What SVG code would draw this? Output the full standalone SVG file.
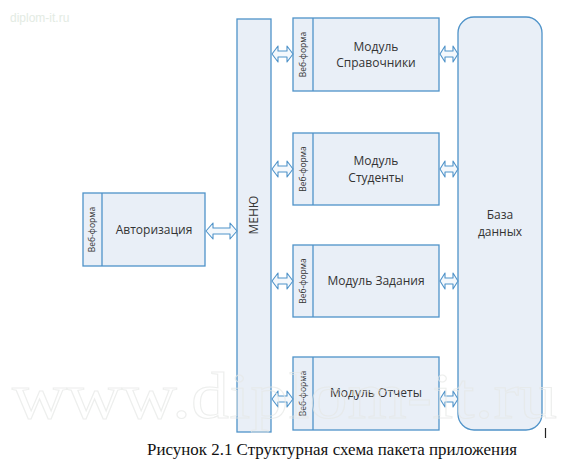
<svg xmlns="http://www.w3.org/2000/svg" width="575" height="460" viewBox="0 0 575 460">
<style>
.box{fill:#e9eff7;stroke:#4f93c9;stroke-width:1.3}
.arr{fill:#f4f8fc;stroke:#4f93c9;stroke-width:1.1;stroke-linejoin:round}
.t{font-family:"Open Sans","Liberation Sans",sans-serif;font-size:12px;fill:#333;text-anchor:middle}
.wf{font-family:"Open Sans","Liberation Sans",sans-serif;font-size:8.5px;fill:#333;text-anchor:middle}
.cap{font-family:"Liberation Serif",serif;font-size:16.5px;fill:#111;text-anchor:middle}
.wm{font-family:"Liberation Serif",serif;font-size:66px;fill:none;stroke:#e6e8e6;stroke-width:1}
</style>
<rect width="575" height="460" fill="#fff"/>
<text x="10" y="22" style="font-family:'Liberation Sans',sans-serif;font-size:12px;fill:#e3ebe3">diplom-it.ru</text>

<g id="auth">
<rect class="box" x="83" y="193" width="122" height="73"/>
<line class="box" x1="102" y1="193" x2="102" y2="266"/>
<text class="wf" transform="translate(95,229.5) rotate(-90)">Веб-форма</text>
<text class="t" x="154" y="234">Авторизация</text>
</g>

<g id="menu">
<rect class="box" x="237" y="19" width="34" height="413"/>
<text class="t" transform="translate(258,215) rotate(-90)">МЕНЮ</text>
</g>

<g id="mod-spr">
<rect class="box" x="293" y="18" width="146" height="73"/>
<line class="box" x1="313" y1="18" x2="313" y2="91"/>
<text class="wf" transform="translate(306,54.5) rotate(-90)">Веб-форма</text>
<text class="t" x="376" y="51">Модуль</text>
<text class="t" x="376" y="67">Справочники</text>
</g>

<g id="mod-stud">
<rect class="box" x="293" y="133" width="146" height="72"/>
<line class="box" x1="313" y1="133" x2="313" y2="205"/>
<text class="wf" transform="translate(306,169) rotate(-90)">Веб-форма</text>
<text class="t" x="376" y="165">Модуль</text>
<text class="t" x="376" y="182">Студенты</text>
</g>

<g id="mod-zad">
<rect class="box" x="293" y="245" width="146" height="72"/>
<line class="box" x1="313" y1="245" x2="313" y2="317"/>
<text class="wf" transform="translate(306,281) rotate(-90)">Веб-форма</text>
<text class="t" x="376" y="285">Модуль Задания</text>
</g>

<g id="mod-otch">
<rect class="box" x="293" y="357" width="146" height="73"/>
<line class="box" x1="313" y1="357" x2="313" y2="430"/>
<text class="wf" transform="translate(306,393.5) rotate(-90)">Веб-форма</text>
<text class="t" x="376" y="397">Модуль Отчеты</text>
</g>

<g id="db">
<rect class="box" x="458" y="17" width="84" height="413" rx="16" ry="16"/>
<text class="t" x="500" y="219">База</text>
<text class="t" x="500" y="236">данных</text>
</g>

<g id="connectors">
<path class="arr" d="M206,231 L213,223 L213,228 L230,228 L230,223 L237,231 L230,239 L230,234 L213,234 L213,239 Z"/>
<path class="arr" d="M272,54 L278,46 L278,51 L287,51 L287,46 L293,54 L287,62 L287,57 L278,57 L278,62 Z"/>
<path class="arr" d="M272,169 L278,161 L278,166 L287,166 L287,161 L293,169 L287,177 L287,172 L278,172 L278,177 Z"/>
<path class="arr" d="M272,281 L278,273 L278,278 L287,278 L287,273 L293,281 L287,289 L287,284 L278,284 L278,289 Z"/>
<path class="arr" d="M272,399 L278,391 L278,396 L287,396 L287,391 L293,399 L287,407 L287,402 L278,402 L278,407 Z"/>
<path class="arr" d="M440,54 L445,46 L445,51 L453,51 L453,46 L458,54 L453,62 L453,57 L445,57 L445,62 Z"/>
<path class="arr" d="M440,169 L445,161 L445,166 L453,166 L453,161 L458,169 L453,177 L453,172 L445,172 L445,177 Z"/>
<path class="arr" d="M440,281 L445,273 L445,278 L453,278 L453,273 L458,281 L453,289 L453,284 L445,284 L445,289 Z"/>
<path class="arr" d="M440,399 L445,391 L445,396 L453,396 L453,391 L458,399 L453,407 L453,402 L445,402 L445,407 Z"/>
</g>

<text class="wm" x="12" y="418" textLength="545" lengthAdjust="spacingAndGlyphs" opacity="0.7">www.diplom-it.ru</text>
<line x1="545.5" y1="428" x2="545.5" y2="438" stroke="#222" stroke-width="1.2"/>
<text class="cap" x="332" y="455" textLength="370" lengthAdjust="spacingAndGlyphs">Рисунок 2.1 Структурная схема пакета приложения</text>
</svg>
